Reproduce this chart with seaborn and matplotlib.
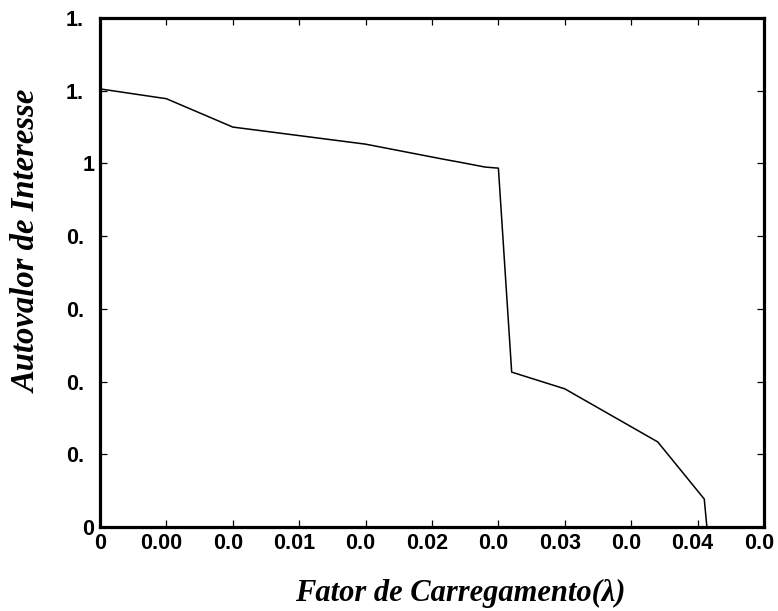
import numpy as np
import pandas as pd
import matplotlib
matplotlib.use("Agg")
import matplotlib.pyplot as plt
from matplotlib.transforms import ScaledTranslation
import seaborn as sns

# Data
lam = [0.0, 0.005, 0.010, 0.020, 0.0258, 0.0270, 0.0290, 0.0300,
       0.0310, 0.0350, 0.0420, 0.0455, 0.0457]
eig = [1.205, 1.178, 1.100, 1.053, 1.012, 1.004, 0.990, 0.987,
       0.426, 0.380, 0.234, 0.077, 0.0]

x_ticks = [0.0, 0.005, 0.01, 0.015, 0.02, 0.025, 0.03, 0.035, 0.04, 0.045, 0.05]
x_labels = ["0", "0.00", "0.0", "0.01", "0.0", "0.02", "0.0", "0.03", "0.0", "0.04", "0.0"]
y_ticks = [0.0, 0.2, 0.4, 0.6, 0.8, 1.0, 1.2, 1.4]
y_labels = ["0", "0.", "0.", "0.", "0.", "1", "1.", "1."]

df = pd.DataFrame({"lam": lam, "eig": eig})

sns.set_style("ticks")
plt.rcParams["font.family"] = ["Liberation Sans", "DejaVu Sans"]
plt.rcParams["text.color"] = "black"
plt.rcParams["axes.labelcolor"] = "black"
plt.rcParams["xtick.color"] = "black"
plt.rcParams["ytick.color"] = "black"

fig = plt.figure(figsize=(7.78, 6.11), dpi=100)
ax = fig.add_axes([100 / 778, 1 - 527 / 611, 664 / 778, 509 / 611])

sns.lineplot(data=df, x="lam", y="eig", ax=ax, color="black", linewidth=1.1,
             sort=False, estimator=None)

ax.set_xlim(0, 0.05)
ax.set_ylim(0, 1.4)
ax.set_xticks(x_ticks)
ax.set_xticklabels(x_labels, fontsize=15.5, fontweight="bold", color="black")
ax.set_yticks(y_ticks)
ax.set_yticklabels(y_labels, fontsize=15.5, fontweight="bold", color="black")

ax.tick_params(direction="in", length=5, width=0.9, top=True, right=True,
               colors="black", labelcolor="black", pad=4)

for s in ax.spines.values():
    s.set_visible(True)
    s.set_linewidth(2.3)
    s.set_color("black")

# Mimic the truncated-label placement of the original
for lab in ax.get_yticklabels():
    if lab.get_text().endswith("."):
        lab.set_transform(lab.get_transform() + ScaledTranslation(-7.5 / 72, 0, fig.dpi_scale_trans))
for lab in ax.get_xticklabels():
    if lab.get_text() != "0":
        lab.set_transform(lab.get_transform() + ScaledTranslation(-3.6 / 72, 0, fig.dpi_scale_trans))

label_font = dict(family=["Liberation Serif", "DejaVu Serif"], style="italic",
                  weight="bold", color="black")
ax.set_xlabel("Fator de Carregamento(\u03bb)", va="center", size=22, **label_font)
ax.set_ylabel("Autovalor de Interesse", va="center", size=23.5, **label_font)
ax.xaxis.set_label_coords(0.542, -0.13)
ax.yaxis.set_label_coords(-0.11, 0.562)

fig.savefig("out.png", dpi=100)
